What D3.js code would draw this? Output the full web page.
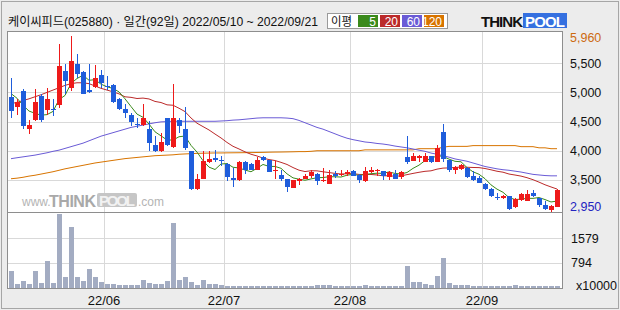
<!DOCTYPE html>
<html>
<head>
<meta charset="utf-8">
<script src="https://cdn.jsdelivr.net/npm/d3@7"></script>
<style>
    body { margin: 0; background: #ececec; }
    svg { display: block; font-family: "Liberation Sans", "Noto Sans CJK KR", sans-serif; }
</style>
</head>
<body>
<div id="chart-area"></div>
<script>
// daily candles, 2022/05/10 ~ 2022/09/21 (92 trading days)
var opens = [4920,4755,5025,4380,4535,4935,4690,4720,4785,5370,
             5070,5485,5350,5035,5095,5295,5110,5120,4880,4710,
             4610,4465,4435,4365,4090,3990,4555,4065,4525,4365,
             3990,3340,3515,3800,3880,3845,3780,3535,3490,3805,
             3780,3675,3885,3835,3645,3590,3515,3360,3475,3520,
             3560,3605,3475,3435,3595,3580,3605,3655,3590,3475,
             3635,3645,3645,3550,3600,3550,3885,3830,3875,3800,
             3905,3800,4320,3835,3665,3685,3705,3560,3530,3435,
             3345,3215,3185,3225,3030,3155,3145,3270,3185,3070,2985,3040];
var highs = [5255,4880,5055,4535,5055,4965,5080,4880,5830,5485,
             5960,5655,5370,5485,5465,5380,5285,5150,4900,4795,
             4650,4565,4795,4505,4250,4305,4565,5140,4565,4750,
             4000,3605,3990,3990,4020,3905,3790,3705,3820,3820,
             3790,3885,3915,3845,3820,3665,3515,3490,3530,3600,
             3665,3615,3705,3665,3645,3675,3665,3665,3600,3720,
             3715,3680,3655,3645,3675,3645,4260,3960,3935,3960,
             3915,4105,4465,3845,3730,3770,3715,3645,3560,3445,
             3360,3270,3245,3230,3185,3270,3320,3320,3195,3145,3070,3345];
var lows  = [4565,4620,4365,4295,4505,4495,4610,4595,4725,4965,
             5025,5255,4965,4995,5080,5080,5035,4810,4690,4565,
             4420,4390,4420,4000,3975,3980,4075,4050,4305,4020,
             3330,3330,3510,3790,3805,3730,3475,3370,3475,3600,
             3665,3665,3820,3630,3515,3485,3300,3355,3405,3515,
             3540,3415,3460,3435,3530,3560,3575,3560,3455,3460,
             3615,3575,3490,3505,3515,3520,3770,3820,3800,3800,
             3790,3800,3800,3635,3605,3665,3530,3475,3445,3330,
             3215,3155,3170,2990,3020,3130,3130,3215,3040,2985,2950,3030];
var closes = [4680,4835,4420,4435,4840,4520,4880,4695,5450,5195,
              5540,5310,4980,5015,5245,5155,5090,4835,4720,4650,
              4495,4440,4565,4135,3990,4145,4090,4555,4420,4050,
              3345,3515,3820,3865,3845,3820,3550,3505,3805,3665,
              3675,3845,3835,3635,3665,3515,3370,3490,3520,3575,
              3630,3475,3505,3590,3570,3605,3635,3575,3505,3645,
              3675,3675,3560,3630,3515,3630,3800,3915,3905,3905,
              3800,4050,3860,3665,3720,3760,3550,3500,3455,3340,
              3230,3185,3230,3000,3175,3260,3255,3230,3070,3000,3055,3330];
// volume, x10000 shares
var volumes = [530,116,212,116,530,148,847,148,2340,339,
               1927,339,212,593,339,180,116,116,85,85,
               85,85,244,148,116,116,212,2054,244,339,
               180,85,244,116,116,85,74,53,74,53,
               74,74,74,74,53,53,74,74,53,53,
               53,85,85,85,53,53,53,53,53,85,
               53,53,53,53,53,53,688,191,191,116,
               85,371,953,148,85,85,85,53,53,53,
               53,53,53,53,85,53,53,53,53,53,53,53];

// moving averages that need days before the window
var ma5Head = [4980,4900,4780,4680];
var ma20Head = [4806,4830,4860,4890,4925,4960,5000,5040,5080,5120,
                5150,5165,5165,5150,5110,5070,5040,5010,4975];
var ma60 = [3864,3880,3895,3910,3925,3945,3965,3990,4010,4040,
            4070,4100,4130,4170,4210,4250,4280,4310,4340,4370,
            4400,4420,4440,4460,4480,4495,4500,4505,4505,4505,
            4505,4505,4505,4505,4505,4510,4515,4525,4530,4540,
            4550,4560,4565,4565,4565,4565,4560,4550,4520,4480,
            4440,4400,4370,4330,4290,4250,4215,4190,4170,4150,
            4140,4125,4115,4100,4080,4065,4050,4030,4010,3990,
            3960,3940,3915,3890,3860,3840,3820,3790,3760,3730,
            3710,3690,3675,3665,3650,3635,3615,3595,3585,3575,3570,3570];
var ma120 = [3520,3530,3545,3565,3580,3600,3620,3640,3665,3690,
             3710,3730,3750,3770,3790,3805,3820,3835,3850,3865,
             3875,3885,3895,3905,3915,3920,3925,3930,3940,3945,
             3950,3955,3958,3960,3962,3962,3964,3965,3966,3967,
             3968,3970,3972,3975,3977,3978,3980,3982,3985,3985,
             3990,4000,4000,4000,4000,4000,4000,4000,4000,4015,
             4015,4015,4015,4015,4015,4015,4015,4015,4035,4035,
             4035,4035,4060,4075,4075,4075,4075,4088,4088,4088,
             4088,4088,4088,4088,4088,4070,4070,4070,4050,4050,4035,4035];

var priceTicks = [5500, 5000, 4500, 4000, 3500];
var priceMax = 5960, priceMin = 2950;
var volTicks = [1579, 794];
var monthIdx = [16, 36, 57, 79];
var monthLabels = ["22/06", "22/07", "22/08", "22/09"];
var legendLabels = ["5", "20", "60", "120"];
var maColors = ["#3a8a1c", "#bb2a2a", "#6a5bd6", "#d87400"];

function movingAvg(vals, n, head) {
    return vals.map(function(v, i) {
        if (i < n - 1) return head[i];
        return d3.mean(vals.slice(i - n + 1, i + 1));
    });
}
var ma5 = movingAvg(closes, 5, ma5Head);
var ma20 = movingAvg(closes, 20, ma20Head);

var svg = d3.select("#chart-area")
    .append("svg")
        .attr("width", 620)
        .attr("height", 310);

// frame
svg.append("rect").attr("x", 1.5).attr("y", 1.5).attr("width", 617).attr("height", 307)
    .attr("fill", "#ececec").attr("stroke", "#a6a6a6");
svg.append("rect").attr("x", 7.5).attr("y", 31.5).attr("width", 555).attr("height", 257)
    .attr("fill", "#fff").attr("stroke", "#8e8e8e");

var x = d3.scaleBand()
    .domain(d3.range(closes.length))
    .range([8, 8 + 6 * closes.length]);
var y = d3.scaleLinear()
    .domain([priceMin, priceMax])
    .range([212, 36.4]);
var yVol = d3.scaleLinear()
    .domain([0, 794 * 3])
    .range([288, 213]);

// grid
svg.selectAll(".hgrid")
        .data(priceTicks)
    .enter().append("line")
        .attr("x1", 8).attr("x2", 562)
        .attr("y1", d => Math.round(y(d)) + 0.5)
        .attr("y2", d => Math.round(y(d)) + 0.5)
        .attr("stroke", "#d9d9d9");
svg.selectAll(".vgrid")
        .data(volTicks)
    .enter().append("line")
        .attr("x1", 8).attr("x2", 562)
        .attr("y1", d => Math.round(yVol(d)) + 0.5)
        .attr("y2", d => Math.round(yVol(d)) + 0.5)
        .attr("stroke", "#d9d9d9");
svg.selectAll(".mgrid")
        .data(monthIdx)
    .enter().append("line")
        .attr("x1", d => x(d) + 0.5).attr("x2", d => x(d) + 0.5)
        .attr("y1", 32).attr("y2", 288)
        .attr("stroke", "#d9d9d9");
svg.append("line").attr("x1", 8).attr("x2", 562).attr("y1", 212.5).attr("y2", 212.5)
    .attr("stroke", "#8e8e8e");

// watermark
var wm = svg.append("g").attr("fill", "#b4b4b4");
wm.append("text").attr("x", 22).attr("y", 206).attr("font-size", 12).text("www.");
wm.append("text").attr("x", 49).attr("y", 206.5).attr("font-size", 16).attr("font-weight", "bold")
    .attr("textLength", 47).attr("fill", "#a9a9a9").text("THINK");
wm.append("rect").attr("x", 97).attr("y", 193).attr("width", 40).attr("height", 14).attr("rx", 2)
    .attr("fill", "#c6c6c6");
wm.append("text").attr("x", 99).attr("y", 206).attr("font-size", 15).attr("font-weight", "bold")
    .attr("textLength", 36).attr("fill", "#f2f2f2").text("POOL");
wm.append("text").attr("x", 138).attr("y", 206).attr("font-size", 12).text(".com");

// volume bars
svg.selectAll(".vol")
        .data(volumes)
    .enter().append("rect")
        .attr("x", (d, i) => x(i) + 1)
        .attr("width", 5)
        .attr("y", d => Math.round(yVol(d)))
        .attr("height", d => 288 - Math.round(yVol(d)))
        .attr("fill", "#a3acc2");

// moving average lines
var line = d3.line()
    .x((d, i) => x(i) + 3)
    .y(d => y(d));
[ma120, ma60, ma20, ma5].forEach(function(s, k) {
    svg.append("path")
        .attr("d", line(s))
        .attr("fill", "none")
        .attr("stroke", maColors[3 - k])
        .attr("stroke-width", 1);
});

// candles
var candles = svg.selectAll(".candle")
        .data(closes)
    .enter().append("g");
candles.append("line")
    .attr("x1", (d, i) => x(i) + 3.5)
    .attr("x2", (d, i) => x(i) + 3.5)
    .attr("y1", (d, i) => Math.round(y(highs[i])))
    .attr("y2", (d, i) => Math.round(y(lows[i])))
    .attr("stroke", (d, i) => d >= opens[i] ? "#ee1a1a" : "#1f5ddb");
candles.append("rect")
    .attr("x", (d, i) => x(i) + 1)
    .attr("width", 5)
    .attr("y", (d, i) => Math.round(y(Math.max(d, opens[i]))))
    .attr("height", (d, i) => Math.max(1, Math.round(y(Math.min(d, opens[i]))) - Math.round(y(Math.max(d, opens[i])))))
    .attr("fill", (d, i) => d >= opens[i] ? "#ee1a1a" : "#1f5ddb");

// right axis labels
var fmt = d3.format(",");
svg.selectAll(".plabel")
        .data(priceTicks)
    .enter().append("text")
        .attr("x", 570).attr("y", d => y(d)).attr("dy", "0.35em")
        .attr("font-size", 12.5).attr("fill", "#111")
        .text(d => fmt(d));
svg.append("text").attr("x", 570).attr("y", 38).attr("dy", "0.35em")
    .attr("font-size", 12.5).attr("fill", "#cc6a10").text(fmt(priceMax));
svg.append("text").attr("x", 570).attr("y", 207).attr("dy", "0.35em")
    .attr("font-size", 12.5).attr("fill", "#2424c0").text(fmt(priceMin));
svg.selectAll(".vlabel")
        .data(volTicks)
    .enter().append("text")
        .attr("x", 571).attr("y", d => yVol(d)).attr("dy", "0.35em")
        .attr("font-size", 12.5).attr("fill", "#111")
        .text(d => d);
svg.append("text").attr("x", 576).attr("y", 286).attr("dy", "0.35em")
    .attr("font-size", 12.5).attr("fill", "#111").text("x10000");

// month labels
svg.selectAll(".mlabel")
        .data(monthIdx)
    .enter().append("text")
        .attr("x", d => x(d))
        .attr("y", 305)
        .attr("text-anchor", "middle")
        .attr("font-size", 13).attr("fill", "#111")
        .text((d, i) => monthLabels[i]);

// title
svg.append("text").attr("x", 8).attr("y", 26)
    .attr("font-size", 12.5).attr("fill", "#111")
    .attr("textLength", 310).attr("lengthAdjust", "spacingAndGlyphs")
    .text("케이씨피드(025880) · 일간(92일) 2022/05/10 ~ 2022/09/21");

// legend
svg.append("rect").attr("x", 327.5).attr("y", 13.5).attr("width", 120).attr("height", 15)
    .attr("fill", "#fff").attr("stroke", "#9a9a9a");
svg.append("text").attr("x", 331).attr("y", 25.5).attr("font-size", 12).attr("fill", "#111")
    .attr("textLength", 21).attr("lengthAdjust", "spacingAndGlyphs").text("이평");
var leg = svg.selectAll(".leg")
        .data(legendLabels)
    .enter().append("g");
leg.append("rect")
    .attr("x", (d, i) => 358 + i * 22)
    .attr("y", 15).attr("width", 20).attr("height", 12)
    .attr("fill", (d, i) => maColors[i]);
leg.append("text")
    .attr("x", (d, i) => 376 + i * 22)
    .attr("y", 25.5).attr("text-anchor", "end")
    .attr("font-size", 12).attr("fill", "#fff")
    .text(d => d);

// logo
svg.append("text").attr("x", 481).attr("y", 27).attr("font-size", 15).attr("font-weight", 900)
    .attr("textLength", 42).attr("fill", "#111").text("THINK");
svg.append("rect").attr("x", 523).attr("y", 13).attr("width", 44).attr("height", 15)
    .attr("fill", "#3570e0");
svg.append("text").attr("x", 525).attr("y", 27).attr("font-size", 15).attr("font-weight", "bold")
    .attr("textLength", 40).attr("fill", "#fff").text("POOL");
</script>
</body>
</html>
